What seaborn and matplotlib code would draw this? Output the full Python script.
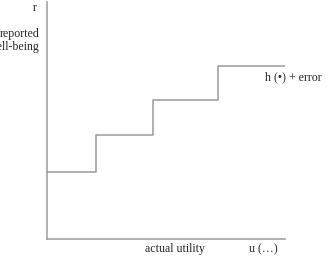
import matplotlib
matplotlib.use("Agg")
import matplotlib.pyplot as plt
import seaborn as sns
import pandas as pd

# Step breakpoints (actual utility) and reported well-being levels
utility = [0, 49, 106, 171, 238]
wellbeing = [67, 104, 139, 173, 173]

x_label = "actual utility"
x_sym = "u (\u2026)"
y_sym = "r"
y_label_lines = ["reported", "well-being"]
series_label = "h (\u2022) + error"

sns.set_style("white")
plt.rcParams['font.family'] = ['Liberation Serif', 'DejaVu Serif']

W, H = 329, 260
fig = plt.figure(figsize=(W / 100, H / 100), dpi=100)
ax = fig.add_axes([47 / W, (H - 239) / H, 238 / W, 237 / H])

df = pd.DataFrame({"u": utility, "r": wellbeing})
sns.lineplot(data=df, x="u", y="r", drawstyle="steps-post", color="#9a9a9a",
             linewidth=1.1, ax=ax)

ax.set_xlim(0, 238)
ax.set_ylim(0, 237)
ax.set_xticks([])
ax.set_yticks([])
ax.set_xlabel("")
ax.set_ylabel("")
for s in ["top", "right"]:
    ax.spines[s].set_visible(False)
for s in ["left", "bottom"]:
    ax.spines[s].set_color("#9a9a9a")
    ax.spines[s].set_linewidth(1.1)

fs = 8.6
fig.text(37 / W, 1 - 8 / H, y_sym, ha="right", va="center", fontsize=fs)
fig.text(40 / W, 1 - 34 / H, y_label_lines[0], ha="right", va="center", fontsize=fs)
fig.text(40 / W, 1 - 47 / H, y_label_lines[1], ha="right", va="center", fontsize=fs)
fig.text(175 / W, 1 - 249 / H, x_label, ha="center", va="center", fontsize=fs)
fig.text(263 / W, 1 - 249 / H, x_sym, ha="center", va="center", fontsize=fs)
fig.text(293 / W, 1 - 77 / H, series_label, ha="center", va="center", fontsize=fs)

fig.savefig("out.png", dpi=100)
